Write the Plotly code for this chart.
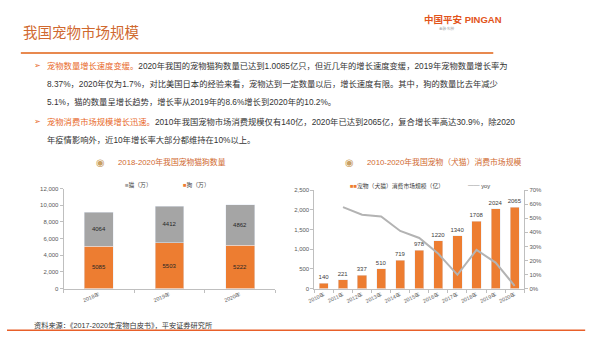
import plotly.graph_objects as go

W, H = 600, 341


def px(x):
    return x / W


def py(y):
    return 1 - y / H


# ---------------- data ----------------
pet_years = ["2018年", "2019年", "2020年"]
cat_counts = [4064, 4412, 4862]
dog_counts = [5085, 5503, 5222]

mkt_years = ["2010年", "2011年", "2012年", "2013年", "2014年", "2015年",
             "2016年", "2017年", "2018年", "2019年", "2020年"]
mkt_size = [140, 221, 337, 510, 719, 978, 1220, 1340, 1708, 2024, 2065]
yoy_years = ["2011年", "2012年", "2013年", "2014年", "2015年",
             "2016年", "2017年", "2018年", "2019年", "2020年"]
yoy_values = [0.579, 0.525, 0.513, 0.410, 0.360, 0.247, 0.098, 0.275, 0.185, 0.020]

left_y_ticks = [0, 2000, 4000, 6000, 8000, 10000, 12000]
right_y_ticks = [0, 500, 1000, 1500, 2000, 2500]
pct_ticks = [0, 0.1, 0.2, 0.3, 0.4, 0.5, 0.6, 0.7]

ORANGE = "#ed7d31"
GRAY = "#a5a5a5"
LINE_GRAY = "#b3b3b3"
AXIS = "#bfbfbf"
TICKC = "#595959"
FONT = "Liberation Sans, Noto Sans CJK SC, sans-serif"

fig = go.Figure()

# left: stacked bars
fig.add_trace(go.Bar(
    x=pet_years, y=dog_counts, name="狗（万）", marker_color=ORANGE,
    width=0.41, text=[str(v) for v in dog_counts], textposition="inside",
    insidetextanchor="middle", textangle=0, constraintext="none",
    textfont=dict(size=6, color="#262626", family=FONT),
    xaxis="x", yaxis="y", showlegend=False))
fig.add_trace(go.Bar(
    x=pet_years, y=cat_counts, name="猫（万）", marker_color=GRAY,
    width=0.41, text=[str(v) for v in cat_counts], textposition="inside",
    insidetextanchor="middle", textangle=0, constraintext="none",
    textfont=dict(size=6, color="#262626", family=FONT),
    xaxis="x", yaxis="y", showlegend=False))

# right: market size bars + yoy line
fig.add_trace(go.Bar(
    x=mkt_years, y=mkt_size, name="宠物（犬猫）消费市场规模（亿）",
    marker_color=ORANGE, width=0.48,
    text=[str(v) for v in mkt_size], textposition="outside", textangle=0,
    constraintext="none",
    textfont=dict(size=6, color="#404040", family=FONT), cliponaxis=False,
    xaxis="x2", yaxis="y2", showlegend=False))
fig.add_trace(go.Scatter(
    x=yoy_years, y=yoy_values, name="yoy", mode="lines",
    line=dict(color=LINE_GRAY, width=2),
    xaxis="x2", yaxis="y3", showlegend=False))

axis_common = dict(showgrid=False, zeroline=False, showline=True,
                   linecolor=AXIS, linewidth=1, ticks="outside",
                   ticklen=3, tickcolor=AXIS)
yfont = dict(tickfont=dict(size=6, color=TICKC, family=FONT))
xfont = dict(tickfont=dict(size=5.3, color=TICKC, family=FONT))

fig.update_layout(
    width=W, height=H, margin=dict(l=0, r=0, t=0, b=0),
    paper_bgcolor="white", plot_bgcolor="white",
    barmode="stack", showlegend=False,
    font=dict(family=FONT),
    xaxis=dict(domain=[px(57.3), px(271.5)], anchor="y",
               tickson="boundaries", tickangle=-22, **axis_common, **xfont),
    yaxis=dict(domain=[py(290.7), py(189)], anchor="x", range=[0, 12000],
               tickvals=left_y_ticks, tickformat=",", **axis_common, **yfont),
    xaxis2=dict(domain=[px(311), px(523.3)], anchor="y2",
                tickson="boundaries", tickangle=-25, **axis_common, **xfont),
    yaxis2=dict(domain=[py(290.7), py(190.5)], anchor="x2", range=[0, 2500],
                tickvals=right_y_ticks, tickformat=",", **axis_common, **yfont),
    yaxis3=dict(overlaying="y2", side="right", anchor="x2", range=[0, 0.7],
                tickvals=pct_ticks, tickformat=".0%", **axis_common, **yfont),
)

ann = []


def text(x, y, s, size, color="#333333", xanchor="left", yanchor="middle",
         family=FONT):
    ann.append(dict(x=px(x), y=py(y), xref="paper", yref="paper", text=s,
                    showarrow=False, xanchor=xanchor, yanchor=yanchor,
                    font=dict(size=size, color=color, family=family)))


TITLE_C = "#d0692f"
BODY = "#333333"
BUL = "#e8692a"

# header
text(14, 31, "我国宠物市场规模", 14.5, TITLE_C)
text(503, 17, "<b>中国平安 PINGAN</b>", 9.5, "#e2541b", xanchor="right")
text(445, 26, "金融·科技", 3.5, "#999999", xanchor="center")

# bullets
BS = 8.3
text(25, 64, "➢", 8, BUL)
text(38, 64, f"<span style='color:{BUL}'>宠物数量增长速度变缓。</span>2020年我国的宠物猫狗数量已达到1.0085亿只，但近几年的增长速度变缓，2019年宠物数量增长率为", BS, BODY)
text(38, 82.5, "8.37%，2020年仅为1.7%，对比美国日本的经验来看，宠物达到一定数量以后，增长速度有限。其中，狗的数量比去年减少", BS, BODY)
text(38, 101, "5.1%，猫的数量呈增长趋势，增长率从2019年的8.6%增长到2020年的10.2%。", BS, BODY)
text(25, 121, "➢", 8, BUL)
text(38, 121, f"<span style='color:{BUL}'>宠物消费市场规模增长迅速。</span>2010年我国宠物市场消费规模仅有140亿，2020年已达到2065亿，复合增长率高达30.9%，除2020", BS, BODY)
text(38, 139.5, "年疫情影响外，近10年增长率大部分都维持在10%以上。", BS, BODY)

# chart titles
ICON = "#c9a063"
text(95, 162, "◉", 10, ICON, xanchor="center", family="DejaVu Sans")
text(110, 162, "2018-2020年我国宠物猫狗数量", 7.8, TITLE_C)
text(347, 162, "◉", 10, ICON, xanchor="center", family="DejaVu Sans")
text(362, 162, "2010-2020年我国宠物（犬猫）消费市场规模", 7.8, TITLE_C)

# legends
text(117, 185, f"<span style='color:{GRAY}'>■</span>猫（万）", 5.8, "#404040")
text(176, 185, f"<span style='color:{ORANGE}'>■</span>狗（万）", 5.8, "#404040")
text(345, 186, f"<span style='color:{ORANGE}'>■■</span>宠物（犬猫）消费市场规模（亿）", 5.8, "#404040")
text(464, 186, f"<span style='color:{LINE_GRAY}'>━━</span> yoy", 5.8, "#404040")

# source
text(25, 328, "资料来源：《2017-2020年宠物白皮书》，平安证券研究所", 7.2, BODY)

fig.update_layout(annotations=ann)

fig.update_layout(shapes=[
    dict(type="line", xref="paper", yref="paper", x0=px(14), x1=px(492),
         y0=py(51), y1=py(51), line=dict(color="#e8894f", width=2)),
    dict(type="line", xref="paper", yref="paper", x0=px(0), x1=px(585),
         y0=py(333), y1=py(333), line=dict(color="#e8602a", width=1.5)),
])

fig.write_html("out.html")
